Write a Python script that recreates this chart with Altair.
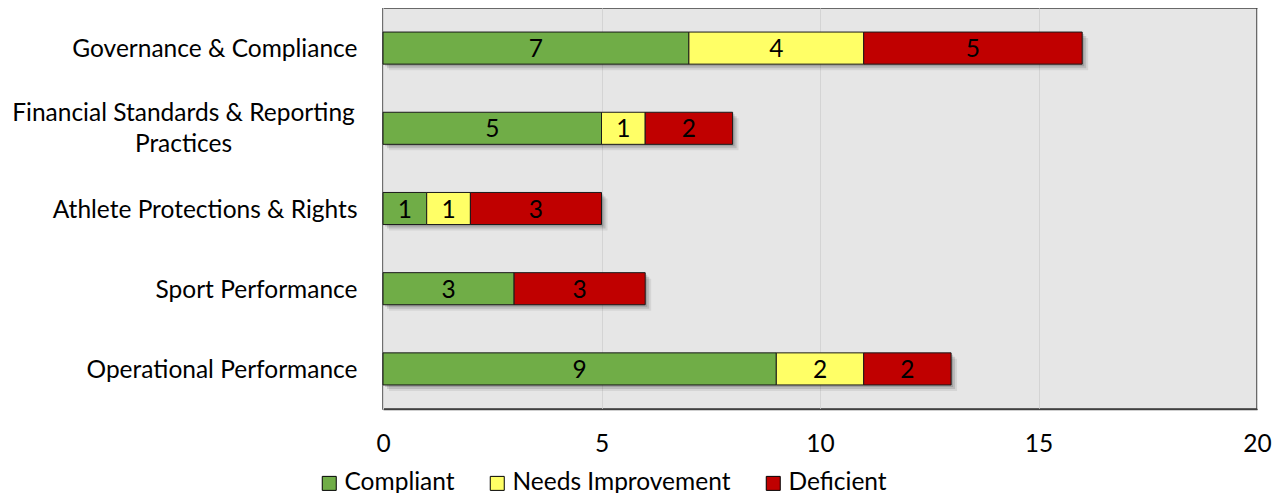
import altair as alt
import pandas as pd

categories = [
    "Governance & Compliance",
    "Financial Standards & Reporting Practices",
    "Athlete Protections & Rights",
    "Sport Performance",
    "Operational Performance",
]
statuses = ["Compliant", "Needs Improvement", "Deficient"]
status_colors = ["#70AD47", "#FFFF66", "#C00000"]
compliant = [7, 5, 1, 3, 9]
needs_improvement = [4, 1, 1, 0, 2]
deficient = [5, 2, 3, 3, 2]

FONT = "Lato"
FS = 24.5

rows = []
for i, cat in enumerate(categories):
    for j, (st, vals) in enumerate(zip(statuses, [compliant, needs_improvement, deficient])):
        rows.append({"category": cat, "status": st, "order": j, "value": vals[i]})
df = pd.DataFrame(rows)

totals = pd.DataFrame({
    "category": categories,
    "start": [0] * len(categories),
    "total": [a + b + c for a, b, c in zip(compliant, needs_improvement, deficient)],
})

two_line = "Financial Standards & Reporting Practices"
is_two = f"datum.value == '{two_line}'"
label_expr = (
    f"{is_two} ? ['Financial Standards & Reporting', 'Practices'] : datum.value"
)

y_enc = alt.Y(
    "category:N",
    sort=categories,
    title=None,
    scale=alt.Scale(paddingInner=0.6, paddingOuter=0.3),
    axis=alt.Axis(
        ticks=False,
        labelPadding={"condition": {"test": is_two, "value": 200}, "value": 26},
        labelAlign={"condition": {"test": is_two, "value": "center"}, "value": "right"},
        labelOffset={"condition": {"test": is_two, "value": -14}, "value": 2},
        labelFontSize=FS,
        labelFont=FONT,
        labelColor="black",
        labelLineHeight=31,
        labelExpr=label_expr,
        domainColor="#D0D0D0",
        labelLimit=600,
    ),
)

x_scale = alt.Scale(domain=[0, 20])
x_axis = alt.Axis(
    values=[0, 5, 10, 15, 20],
    ticks=False,
    grid=True,
    gridColor="#D4D4D4",
    labelFontSize=FS,
    labelFont=FONT,
    labelColor="black",
    labelPadding=23,
    labelFlush=False,
    domainColor="#404040",
    domainWidth=1.5,
)

shadows = []
for off, op in [(2, 0.14), (4, 0.12), (6, 0.07)]:
    shadows.append(
        alt.Chart(totals)
        .mark_bar(color="black", opacity=op, xOffset=off, x2Offset=off, yOffset=off, y2Offset=off)
        .encode(
            x=alt.X("start:Q", scale=x_scale, axis=x_axis, title=None),
            x2="total:Q",
            y=y_enc,
        )
    )

stacked = (
    alt.Chart(df)
    .transform_filter("datum.value > 0")
    .transform_stack(
        stack="value",
        groupby=["category"],
        as_=["x0", "x1"],
        sort=[alt.SortField("order", order="ascending")],
    )
    .transform_calculate(mid="(datum.x0 + datum.x1) / 2")
)

bars = stacked.mark_bar(stroke="#1A1A1A", strokeWidth=1, opacity=1).encode(
    x=alt.X("x0:Q", scale=x_scale, axis=x_axis, title=None),
    x2="x1:Q",
    y=y_enc,
    color=alt.Color(
        "status:N",
        scale=alt.Scale(domain=statuses, range=status_colors),
        legend=alt.Legend(
            orient="none",
            legendX=-66,
            legendY=463,
            direction="horizontal",
            title=None,
            symbolType="square",
            symbolSize=196,
            symbolStrokeColor="black",
            symbolStrokeWidth=1,
            symbolOpacity=1,
            labelFontSize=FS,
            labelFont=FONT,
            labelColor="black",
            labelOffset=3,
            columnPadding=30,
            labelLimit=400,
        ),
    ),
)

texts = stacked.mark_text(fontSize=FS, font=FONT, color="black", dy=2).encode(
    x=alt.X("mid:Q", scale=x_scale, title=None),
    y=y_enc,
    text="value:Q",
)

chart = (
    alt.layer(*shadows, bars, texts)
    .properties(
        width=874,
        height=401,
        autosize=alt.AutoSizeParams(type="none"),
        padding={"left": 375, "right": 20, "top": 0, "bottom": 90},
    )
    .configure_view(fill="#E6E6E6", stroke="#404040", strokeWidth=1.5)
)

chart.save("out.html", embed_options={"renderer": "svg", "actions": False})
